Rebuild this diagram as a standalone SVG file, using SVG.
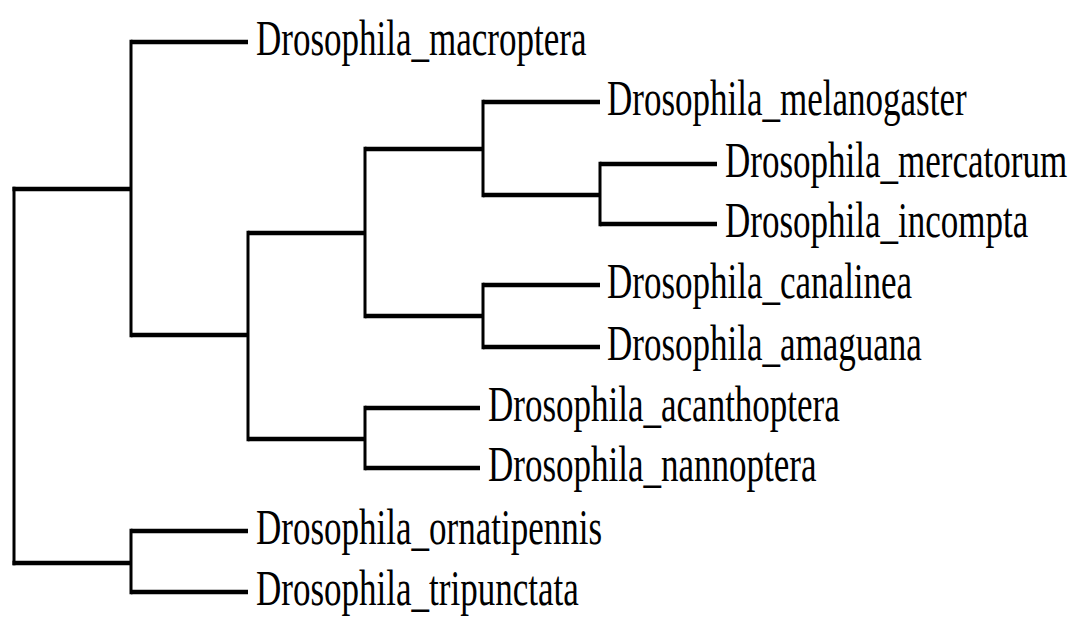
<svg xmlns="http://www.w3.org/2000/svg" width="1074" height="617" viewBox="0 0 1074 617">
<style>
.h{stroke:#000;stroke-width:4.5;fill:none;stroke-linecap:butt}
.v{stroke:#000;stroke-width:3;fill:none;stroke-linecap:butt}
.lbl{font-family:"Liberation Serif","Times New Roman",serif;font-size:35px;fill:#000}
</style>
<rect width="1074" height="617" fill="#fff"/>
<g id="connectors">
<path class="h" d="M131 42H248M483 102H600M600 164H717M600 224H717M483 195H600M365 149H483M483 285H600M483 347H600M365 316H483M248 233H365M365 408H480M365 468H480M248 439H365M131 335H248M12.5 189H131M131 531H248M131 592H248M12.5 563H131"/>
<path class="v" d="M131 39.8V337.2M483 99.8V197.2M600 161.8V226.2M483 282.8V349.2M365 146.8V318.2M365 405.8V470.2M248 230.8V441.2M14 186.8V565.2M131 528.8V594.2"/>
</g>
<g id="n_macroptera"><text class="lbl" transform="translate(256,55) scale(1,1.47)">Drosophila_macroptera</text></g>
<g id="n_melanogaster"><text class="lbl" transform="translate(607,115) scale(1,1.47)">Drosophila_melanogaster</text></g>
<g id="n_mercatorum"><text class="lbl" transform="translate(725,177) scale(1,1.47)">Drosophila_mercatorum</text></g>
<g id="n_incompta"><text class="lbl" transform="translate(725,237) scale(1,1.47)">Drosophila_incompta</text></g>
<g id="n_canalinea"><text class="lbl" transform="translate(607,298) scale(1,1.47)">Drosophila_canalinea</text></g>
<g id="n_amaguana"><text class="lbl" transform="translate(607,360) scale(1,1.47)">Drosophila_amaguana</text></g>
<g id="n_acanthoptera"><text class="lbl" transform="translate(488,421) scale(1,1.47)">Drosophila_acanthoptera</text></g>
<g id="n_nannoptera"><text class="lbl" transform="translate(488,481) scale(1,1.47)">Drosophila_nannoptera</text></g>
<g id="n_ornatipennis"><text class="lbl" transform="translate(256,544) scale(1,1.47)">Drosophila_ornatipennis</text></g>
<g id="n_tripunctata"><text class="lbl" transform="translate(256,605) scale(1,1.47)">Drosophila_tripunctata</text></g>
</svg>
